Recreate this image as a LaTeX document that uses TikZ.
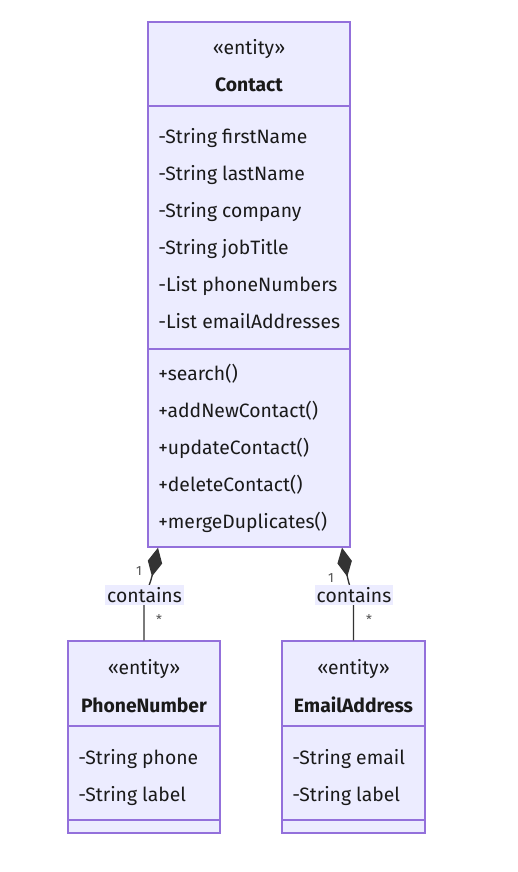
\documentclass[tikz,border=0pt]{standalone}
\usepackage{fontspec}
\setmainfont{Fira Sans}
\usepackage{xcolor}
\usetikzlibrary{arrows.meta, calc}

\definecolor{umlfill}{HTML}{ECECFF}
\definecolor{umlline}{HTML}{9370DB}
\definecolor{umltext}{HTML}{1A1A1A}
\definecolor{edgeline}{HTML}{333333}
\newcommand{\px}{0.75pt}

\begin{document}
\begin{tikzpicture}[x=\px, y=-\px,
  every node/.style={font=\fontsize{14.5}{17}\selectfont, text=umltext},
  box/.style={draw=umlline, fill=umlfill, line width=1.1pt, inner sep=0pt},
  divider/.style={draw=umlline, line width=1.1pt},
  member/.style={anchor=base west, inner sep=0pt},
  title/.style={anchor=base, inner sep=0pt},
  conn/.style={draw=edgeline, line width=1pt, -{Diamond[length=22pt, width=11pt, fill=edgeline]}},
  edgelabel/.style={fill=umlfill, inner sep=1.5pt},
  mult/.style={font=\fontsize{10}{11}\selectfont, text=edgeline!85, inner sep=0pt}]
  \useasboundingbox (0,0) rectangle (518,872);

  \node[box, minimum width=202*\px, minimum height=525*\px] (contact) at (249,284.5) {};
  \draw[divider] (148,106) -- (350,106);
  \draw[divider] (148,349) -- (350,349);
  \node[title] (cster) at (249,54) {«entity»};
  \node[title, font=\fontsize{14.5}{17}\selectfont\bfseries] (cname) at (249,91.5) {Contact};
  \foreach \t [count=\i] in {-String firstName, -String lastName, -String company,
      -String jobTitle, -List phoneNumbers, -List emailAddresses}
    \node[member] (cattr\i) at (158,143+37*\i-37) {\t};
  \foreach \t [count=\i] in {+search(), +addNewContact(), +updateContact(),
      +deleteContact(), +mergeDuplicates()}
    \node[member] (cop\i) at (158,380+37*\i-37) {\t};

  \node[box, minimum width=152*\px, minimum height=192*\px] (phone) at (144,737) {};
  \draw[divider] (68,726) -- (220,726);
  \draw[divider] (68,820) -- (220,820);
  \node[title] (pster) at (144,674) {«entity»};
  \node[title, font=\fontsize{14.5}{17}\selectfont\bfseries] (pname) at (144,712) {PhoneNumber};
  \node[member] (pattr1) at (78,764) {-String phone};
  \node[member] (pattr2) at (78,801) {-String label};

  \node[box, minimum width=143*\px, minimum height=192*\px] (email) at (353.5,737) {};
  \draw[divider] (282,726) -- (425,726);
  \draw[divider] (282,820) -- (425,820);
  \node[title] (ester) at (353.5,674) {«entity»};
  \node[title, font=\fontsize{14.5}{17}\selectfont\bfseries] (ename) at (353.5,712) {EmailAddress};
  \node[member] (eattr1) at (292,764) {-String email};
  \node[member] (eattr2) at (292,801) {-String label};

  \coordinate (cphone) at ($(contact.south)+(-91,0)$);
  \coordinate (cemail) at ($(contact.south)+(93,0)$);
  \draw[conn] (phone.north) -- ++(0,-34) .. controls +(0,-12) and +(-8,38) .. (cphone);
  \draw[conn] (email.north) -- ++(0,-34) .. controls +(0,-12) and +(7,38) .. (cemail);

  \node[edgelabel] (lphone) at (144.5,595) {contains};
  \node[edgelabel] (lemail) at (354,595) {contains};
  \node[mult] (mphone1) at (139,571) {1};
  \node[mult] (mphone2) at (159,620) {*};
  \node[mult] (memail1) at (331,578) {1};
  \node[mult] (memail2) at (369,620) {*};
\end{tikzpicture}
\end{document}
